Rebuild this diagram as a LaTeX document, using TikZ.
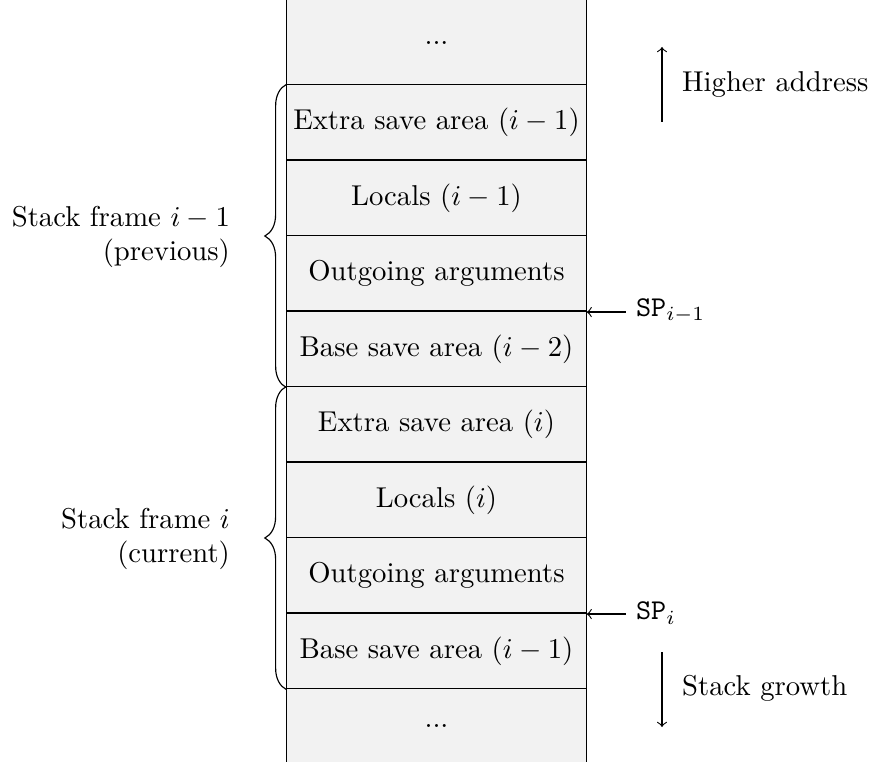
\documentclass[tikz,border=0pt]{standalone}
\usetikzlibrary{decorations.pathreplacing}
\begin{document}
\begin{tikzpicture}[x=0.3484pt,y=-0.3484pt,
  cell/.style={rectangle, fill=black!5, inner sep=0pt, minimum width=104.2pt, minimum height=26.3pt},
  brc/.style={decorate, decoration={brace, amplitude=7.5pt}},
  framelabel/.style={anchor=east, align=right},
  sidelabel/.style={anchor=west}]
\useasboundingbox (0,0) rectangle (873,762);
% cells
\node[cell, minimum height=29.6pt] (c0) at (436.5,42.5) {...};
\node[cell] (c1) at (436.5,122.75) {Extra save area ($i-1$)};
\node[cell] (c2) at (436.5,198.25) {Locals ($i-1$)};
\node[cell] (c3) at (436.5,273.75) {Outgoing arguments};
\node[cell] (c4) at (436.5,349.25) {Base save area ($i-2$)};
\node[cell] (c5) at (436.5,424.75) {Extra save area ($i$)};
\node[cell] (c6) at (436.5,500.25) {Locals ($i$)};
\node[cell] (c7) at (436.5,575.75) {Outgoing arguments};
\node[cell] (c8) at (436.5,651.25) {Base save area ($i-1$)};
\node[cell, minimum height=25.4pt] (c9) at (436.5,725.5) {...};
% borders
\draw (c0.north west) -- (c9.south west);
\draw (c0.north east) -- (c9.south east);
\foreach \k in {1,...,9} {\draw (c\k.north west) -- (c\k.north east);}
% braces
\draw[brc] (c4.south west) -- (c1.north west);
\draw[brc] (c8.south west) -- (c5.north west);
\node[framelabel] (f1) at (240,237) {Stack frame $i-1$\\(previous)};
\node[framelabel] (f2) at (240,539) {Stack frame $i$\\(current)};
% stack pointers
\node[sidelabel] (sp1) at (626,311) {\texttt{SP}$_{i-1}$};
\node[sidelabel] (sp2) at (626,613) {\texttt{SP}$_{i}$};
\draw[<-] (c3.south east) -- (c3.south east -| sp1.west);
\draw[<-] (c7.south east) -- (c7.south east -| sp2.west);
% direction arrows
\coordinate (ha0) at (662,122);
\coordinate (ha1) at (662,47);
\draw[->] (ha0) -- (ha1);
\node[sidelabel] (ha) at (672,85) {Higher address};
\coordinate (sg0) at (662,652);
\coordinate (sg1) at (662,727);
\draw[->] (sg0) -- (sg1);
\node[sidelabel] (sg) at (672,688) {Stack growth};
\end{tikzpicture}
\end{document}
